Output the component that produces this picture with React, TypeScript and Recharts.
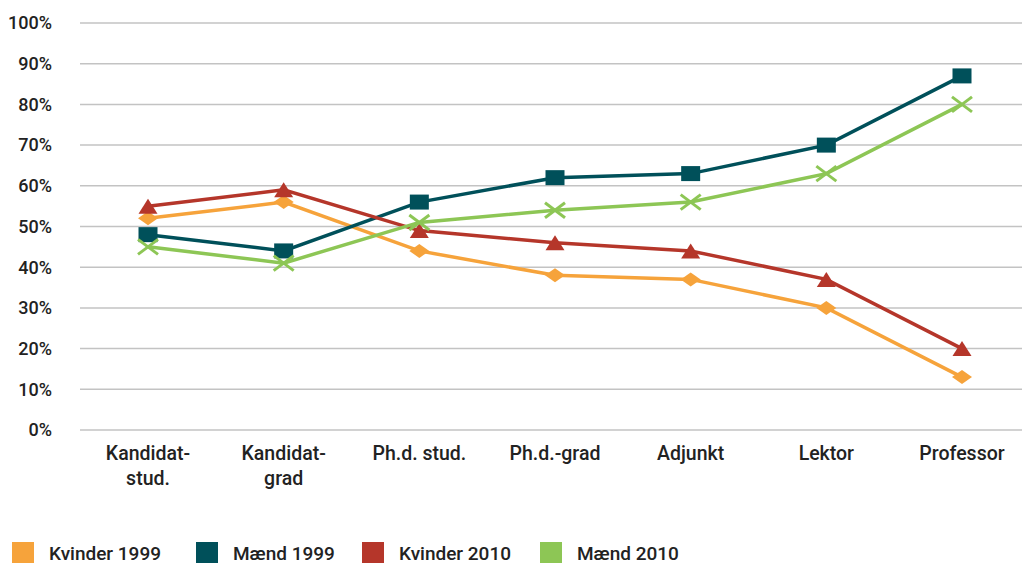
import { CartesianGrid, Line, LineChart, XAxis, YAxis } from "recharts";

const categories = [
  "Kandidat-\nstud.",
  "Kandidat-\ngrad",
  "Ph.d. stud.",
  "Ph.d.-grad",
  "Adjunkt",
  "Lektor",
  "Professor",
];
const kvinder1999 = [52, 56, 44, 38, 37, 30, 13];
const maend1999 = [48, 44, 56, 62, 63, 70, 87];
const kvinder2010 = [55, 59, 49, 46, 44, 37, 20];
const maend2010 = [45, 41, 51, 54, 56, 63, 80];
const yTicks = [0, 10, 20, 30, 40, 50, 60, 70, 80, 90, 100];

type Marker = "diamond" | "square" | "triangle" | "cross";

const SERIES: { key: string; name: string; color: string; marker: Marker; values: number[] }[] = [
  { key: "k1999", name: "Kvinder 1999", color: "#F6A33B", marker: "diamond", values: kvinder1999 },
  { key: "m1999", name: "Mænd 1999", color: "#00505A", marker: "square", values: maend1999 },
  { key: "k2010", name: "Kvinder 2010", color: "#B5362A", marker: "triangle", values: kvinder2010 },
  { key: "m2010", name: "Mænd 2010", color: "#8DC655", marker: "cross", values: maend2010 },
];

const LEGEND_WIDTHS = [184, 166, 178, 200];

const data = categories.map((label, i) => {
  const row: Record<string, string | number> = { label };
  SERIES.forEach((s) => {
    row[s.key] = s.values[i];
  });
  return row;
});

const FONT = "Roboto, 'Noto Sans', sans-serif";
const TEXT_COLOR = "#222222";

function makeDot(marker: Marker, color: string) {
  return function Dot(props: any) {
    const { cx, cy, index } = props;
    if (cx == null || cy == null) return <g key={index} />;
    if (marker === "square") {
      return <rect key={index} x={cx - 9.5} y={cy - 7.5} width={19} height={15} fill={color} />;
    }
    if (marker === "diamond") {
      return (
        <polygon
          key={index}
          points={`${cx - 10},${cy} ${cx},${cy - 7} ${cx + 10},${cy} ${cx},${cy + 7}`}
          fill={color}
        />
      );
    }
    if (marker === "triangle") {
      return (
        <polygon
          key={index}
          points={`${cx},${cy - 7.5} ${cx + 9.5},${cy + 7.5} ${cx - 9.5},${cy + 7.5}`}
          fill={color}
        />
      );
    }
    return (
      <g key={index} stroke={color} strokeWidth={3}>
        <line x1={cx - 10} y1={cy - 7.5} x2={cx + 10} y2={cy + 7.5} />
        <line x1={cx - 10} y1={cy + 7.5} x2={cx + 10} y2={cy - 7.5} />
      </g>
    );
  };
}

function CategoryTick({ x, y, payload }: any) {
  const lines = String(payload.value).split("\n");
  return (
    <text x={x} y={y} textAnchor="middle" fontFamily={FONT} fontSize={19.5} fontWeight={500} fill={TEXT_COLOR}>
      {lines.map((line, i) => (
        <tspan key={i} x={x} dy={i === 0 ? 22 : 25}>
          {line}
        </tspan>
      ))}
    </text>
  );
}

function ChartLegend() {
  return (
    <div style={{ display: "flex", alignItems: "center", paddingLeft: 12, marginTop: 49, fontFamily: FONT }}>
      {SERIES.map((s, i) => (
        <div key={s.key} style={{ display: "flex", alignItems: "center", width: LEGEND_WIDTHS[i], flex: "none" }}>
          <span style={{ display: "inline-block", width: 22, height: 22, background: s.color, marginRight: 15 }} />
          <span style={{ fontSize: 19, lineHeight: 1, fontWeight: 500, color: TEXT_COLOR, whiteSpace: "nowrap" }}>
            {s.name}
          </span>
        </div>
      ))}
    </div>
  );
}

export default function App() {
  return (
    <div style={{ width: 1022, height: 563, background: "#fff", overflow: "hidden" }}>
      <style>{"html,body{margin:0;padding:0;overflow:hidden;background:#fff}"}</style>
      <LineChart width={1022} height={493} data={data} margin={{ top: 23, right: 0, bottom: 0, left: 0 }}>
        <CartesianGrid vertical={false} stroke="#C3C3C3" strokeWidth={1.5} />
        <XAxis
          dataKey="label"
          scale="point"
          padding={{ left: 68, right: 60 }}
          axisLine={false}
          tickLine={false}
          interval={0}
          height={63}
          tick={<CategoryTick />}
        />
        <YAxis
          width={80}
          domain={[0, 100]}
          ticks={yTicks}
          interval={0}
          tickFormatter={(v: number) => `${v}%`}
          axisLine={false}
          tickLine={false}
          tickMargin={22}
          tick={{ fontFamily: FONT, fontSize: 18, fontWeight: 500, fill: TEXT_COLOR }}
        />
        {SERIES.map((s) => (
          <Line
            key={s.key}
            dataKey={s.key}
            name={s.name}
            type="linear"
            stroke={s.color}
            strokeWidth={3.5}
            dot={makeDot(s.marker, s.color)}
            activeDot={false}
            isAnimationActive={false}
          />
        ))}
      </LineChart>
      <ChartLegend />
    </div>
  );
}
